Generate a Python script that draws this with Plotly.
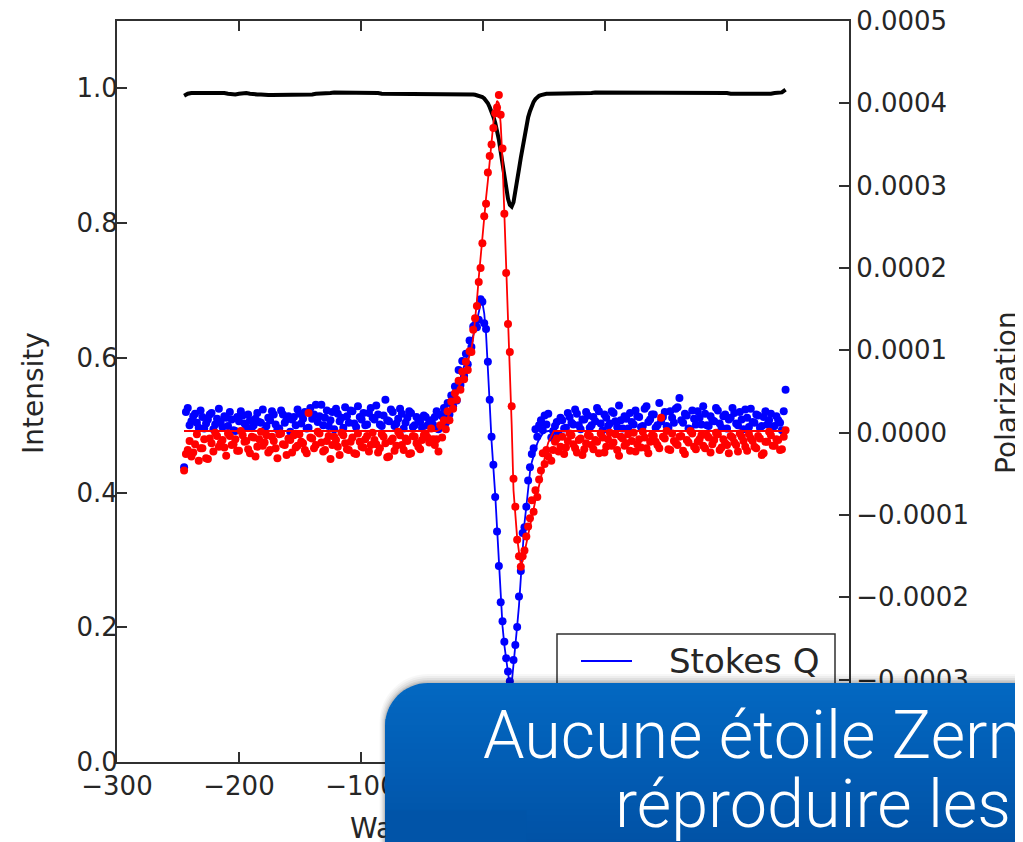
import math
import plotly.graph_objects as go

# ---------------- data ----------------
X_LEFT = [-245, -242, -239, -236, -233, -230, -227, -224, -221, -218,
          -215, -212, -209, -206, -203, -200, -197, -194, -191, -188,
          -185, -182, -179, -176, -173, -170, -167, -164, -161, -158,
          -155, -152, -149, -146, -143, -140, -137, -134, -131, -128,
          -125, -122, -119, -116, -113, -110, -107, -104, -101, -98,
          -95, -92, -89, -86, -83, -80, -77, -74, -71, -68,
          -65, -62, -59, -56, -53, -50, -47, -44, -41]
X_CENTER = [-39.5, -38, -36.5, -35, -33.5, -32, -30.5, -29, -27.5, -26,
            -24.5, -23, -21.5, -20, -18.5, -17, -15.5, -14, -12.5, -11,
            -9.5, -8, -6.5, -5, -3.5, -2, -0.5, 1, 2.5, 4,
            5.5, 7, 8.5, 10, 11.5, 13, 14.5, 16, 17.5, 19,
            20.5, 22, 23.5, 25, 26.5, 28, 29.5, 31, 32.5, 34,
            35.5, 37, 38.5, 40, 41.5, 43, 44.5, 46, 47.5, 49,
            50.5, 52, 53.5]
X_RIGHT = [56, 59, 62, 65, 68, 71, 74, 77, 80, 83,
           86, 89, 92, 95, 98, 101, 104, 107, 110, 113,
           116, 119, 122, 125, 128, 131, 134, 137, 140, 143,
           146, 149, 152, 155, 158, 161, 164, 167, 170, 173,
           176, 179, 182, 185, 188, 191, 194, 197, 200, 203,
           206, 209, 212, 215, 218, 221, 224, 227, 230, 233,
           236, 239, 242, 245, 248]
# interleaved continuum samples (polarization only)
X_LEFT_MID = [-243.5, -240.5, -237.5, -234.5, -231.5, -228.5, -225.5, -222.5, -219.5, -216.5,
              -213.5, -210.5, -207.5, -204.5, -201.5, -198.5, -195.5, -192.5, -189.5, -186.5,
              -183.5, -180.5, -177.5, -174.5, -171.5, -168.5, -165.5, -162.5, -159.5, -156.5,
              -153.5, -150.5, -147.5, -144.5, -141.5, -138.5, -135.5, -132.5, -129.5, -126.5,
              -123.5, -120.5, -117.5, -114.5, -111.5, -108.5, -105.5, -102.5, -99.5, -96.5,
              -93.5, -90.5, -87.5, -84.5, -81.5, -78.5, -75.5, -72.5, -69.5, -66.5,
              -63.5, -60.5, -57.5, -54.5, -51.5, -48.5, -45.5, -42.5]
X_RIGHT_MID = [57.5, 60.5, 63.5, 66.5, 69.5, 72.5, 75.5, 78.5, 81.5, 84.5,
               87.5, 90.5, 93.5, 96.5, 99.5, 102.5, 105.5, 108.5, 111.5, 114.5,
               117.5, 120.5, 123.5, 126.5, 129.5, 132.5, 135.5, 138.5, 141.5, 144.5,
               147.5, 150.5, 153.5, 156.5, 159.5, 162.5, 165.5, 168.5, 171.5, 174.5,
               177.5, 180.5, 183.5, 186.5, 189.5, 192.5, 195.5, 198.5, 201.5, 204.5,
               207.5, 210.5, 213.5, 216.5, 219.5, 222.5, 225.5, 228.5, 231.5, 234.5,
               237.5, 240.5, 243.5, 246.5]

INTENSITY_LEFT = [0.989, 0.992, 0.993, 0.993, 0.994, 0.994, 0.994, 0.993, 0.993, 0.994,
                  0.994, 0.993, 0.992, 0.991, 0.991, 0.992, 0.993, 0.993, 0.992, 0.991,
                  0.991, 0.991, 0.990, 0.990, 0.990, 0.990, 0.990, 0.990, 0.990, 0.990,
                  0.990, 0.991, 0.991, 0.991, 0.991, 0.991, 0.992, 0.992, 0.993, 0.993,
                  0.993, 0.994, 0.994, 0.993, 0.993, 0.993, 0.993, 0.993, 0.993, 0.993,
                  0.993, 0.993, 0.993, 0.993, 0.992, 0.992, 0.992, 0.992, 0.992, 0.992,
                  0.992, 0.992, 0.992, 0.992, 0.992, 0.992, 0.992, 0.992, 0.992]
INTENSITY_CENTER = [0.992, 0.992, 0.992, 0.992, 0.992, 0.992, 0.992, 0.992, 0.992, 0.992,
                    0.992, 0.992, 0.992, 0.992, 0.992, 0.992, 0.992, 0.992, 0.992, 0.9918,
                    0.9915, 0.991, 0.9905, 0.990, 0.9895, 0.989, 0.987, 0.985, 0.982, 0.978,
                    0.972, 0.966, 0.958, 0.949, 0.938, 0.924, 0.906, 0.887, 0.867, 0.851,
                    0.836, 0.827, 0.8245, 0.831, 0.845, 0.862, 0.880, 0.897, 0.914, 0.930,
                    0.944, 0.957, 0.966, 0.974, 0.980, 0.984, 0.987, 0.989, 0.990, 0.991,
                    0.9915, 0.992, 0.992]
INTENSITY_RIGHT = [0.992, 0.992, 0.992, 0.993, 0.993, 0.993, 0.993, 0.993, 0.993, 0.993,
                   0.993, 0.993, 0.994, 0.994, 0.994, 0.993, 0.993, 0.993, 0.993, 0.993,
                   0.993, 0.993, 0.993, 0.994, 0.994, 0.994, 0.994, 0.994, 0.993, 0.993,
                   0.993, 0.993, 0.993, 0.993, 0.993, 0.993, 0.994, 0.994, 0.994, 0.994,
                   0.994, 0.993, 0.993, 0.993, 0.993, 0.993, 0.993, 0.993, 0.993, 0.992,
                   0.992, 0.991, 0.991, 0.991, 0.991, 0.991, 0.992, 0.992, 0.992, 0.992,
                   0.992, 0.993, 0.993, 0.994, 0.998]

# Stokes values in units of 1e-5
Q_LEFT = [-4.2, 3.0, 1.4, 2.3, 0.6, 1.9, 1.1, 2.2, 0.4, 1.7,
          1.3, 2.0, 0.8, 1.6, 0.2, 1.4, 2.1, 0.7, 1.5, 0.9,
          2.4, 1.2, 0.3, 1.8, 2.6, 1.0, 0.5, 2.2, 1.6, 0.1,
          1.9, 2.8, 1.1, 2.5, 0.6, 1.7, 3.4, 2.0, 0.9, 2.7,
          1.5, 0.4, 2.3, 1.8, 3.1, 1.2, 2.6, 0.7, 1.9, 2.4,
          1.0, 3.0, 1.6, 2.2, 0.8, 4.0, 1.4, 2.5, 1.1, 2.9,
          0.5, 1.8, 2.4, 0.9, 1.6, 0.6, 1.9, 1.2, 1.0]
Q_LEFT_MID = [2.5, 0.9, 2.0, 1.2, 2.7, 0.5, 1.6, 2.4, 1.0, 2.9,
              0.7, 1.8, 2.5, 0.3, 1.9, 2.6, 1.1, 2.2, 0.6, 1.7,
              1.3, 2.8, 0.8, 1.5, 2.2, 0.4, 2.7, 1.2, 2.0, 1.6,
              0.9, 2.3, 1.7, 0.5, 3.0, 2.2, 1.3, 3.4, 1.8, 0.8,
              2.5, 2.9, 1.4, 0.6, 2.0, 2.7, 1.1, 3.2, 1.6, 0.9,
              2.4, 1.8, 3.3, 1.0, 2.1, 1.5, 2.8, 0.8, 1.7, 2.3,
              1.2, 2.6, 0.7, 1.9, 1.3, 2.1, 0.9, 1.5]
Q_CENTER = [1.9, 2.6, 0.4, 2.2, 2.0, 3.0, 1.2, 3.6, 2.2, 4.5,
            3.2, 5.6, 3.9, 7.6, 5.8, 8.7, 6.9, 9.6, 8.3, 11.2,
            10.4, 12.9, 13.1, 12.8, 13.7, 16.2, 15.9, 13.3, 12.6, 8.6,
            4.0, -0.5, -3.9, -7.8, -12.0, -16.2, -20.6, -22.9, -25.4, -27.4,
            -29.0, -30.2, -31.2, -27.6, -25.8, -23.6, -19.9, -16.8, -12.2, -11.5,
            -9.0, -5.8, -4.2, -2.6, -1.9, 0.4, -0.5, 0.9, 1.5, 0.3,
            2.1, 1.0, 2.3]
Q_RIGHT = [-0.6, 0.8, -0.2, 1.5, 0.6, 1.9, 1.0, 2.3, 0.4, 1.6,
           2.1, 0.9, 1.4, 2.6, 0.3, 1.8, 1.1, 2.4, 0.7, 1.5,
           2.0, 0.5, 1.3, 2.7, 1.9, 0.8, 3.2, 1.6, 2.2, 0.9,
           1.4, 2.5, 0.6, 1.8, 2.9, 4.2, 1.2, 2.1, 0.4, 1.7,
           2.6, 1.0, 2.3, 0.8, 1.5, 3.0, 1.1, 2.0, 0.5, 1.8,
           2.4, 0.9, 1.6, 2.8, 0.7, 1.3, 2.2, 0.6, 1.9, 1.0,
           2.3, 0.8, 1.5, 0.3, 5.2]
Q_RIGHT_MID = [0.2, 1.3, 1.8, 0.5, 2.4, 1.2, 2.8, 0.9, 1.6, 2.5,
               0.6, 1.9, 3.0, 1.1, 2.2, 0.8, 2.6, 1.4, 3.3, 0.5,
               1.7, 2.4, 1.0, 2.0, 0.7, 2.9, 1.3, 2.2, 0.6, 3.6,
               1.9, 0.8, 2.6, 1.2, 3.1, 1.5, 2.3, 0.5, 2.7, 1.0,
               1.8, 3.2, 0.9, 2.0, 1.4, 2.7, 0.6, 2.2, 1.6, 3.0,
               1.1, 2.5, 0.4, 1.8, 2.9, 1.2, 2.1, 0.8, 2.6, 1.5,
               0.7, 2.0, 1.2, 2.6]

U_LEFT = [-4.6, -2.1, -2.9, -1.4, -3.4, -1.9, -3.1, -0.7, -2.3, -0.4,
          -1.3, -1.8, -0.1, -1.5, -0.8, -2.2, -0.3, -1.0, -2.5, -0.6,
          -1.7, 0.1, -1.2, -2.4, -0.5, -1.9, -0.2, -1.4, -2.7, -0.9,
          -0.3, -1.6, -1.1, -2.1, 2.4, -0.7, -1.5, -0.1, -2.3, -1.0,
          -3.2, -0.5, -1.7, 0.0, -1.3, -2.1, -0.6, -2.6, -1.1, -1.8,
          -0.4, -1.5, -0.9, -2.4, -0.2, -1.3, -2.9, -0.7, -1.6, -0.3,
          -2.1, -1.0, -2.5, -0.5, -1.7, -0.9, -0.1, -1.2, -0.8]
U_LEFT_MID = [-2.6, -1.0, -2.4, -0.2, -1.9, -0.8, -3.2, -1.3, 0.0, -1.7,
              -0.9, -2.8, -0.4, -1.4, -2.2, 0.2, -1.1, -2.0, -0.5, -2.9,
              -0.8, -1.6, -0.3, -2.1, -1.0, -3.1, -0.1, -1.5, -0.7, -2.4,
              -1.8, -0.2, -1.3, -2.5, -0.6, -1.9, 0.1, -1.2, -2.1, -0.4,
              -1.5, -0.9, -2.7, -0.3, -2.0, -1.1, -2.5, -0.1, -1.7, -0.8,
              -2.3, 0.0, -1.4, -1.9, -0.5, -3.0, -1.0, -2.2, 0.1, -1.5,
              -0.7, -2.6, -0.4, -1.3, -2.0, -0.3, -0.6, 0.5]
U_CENTER = [-1.5, -0.8, -2.3, 0.9, -0.6, 1.5, 0.4, 2.6, 1.5, 3.8,
            2.9, 4.8, 4.0, 6.3, 5.2, 7.4, 6.5, 8.6, 7.6, 9.9,
            9.8, 12.5, 13.9, 15.4, 18.3, 20.0, 23.0, 26.3, 27.8, 31.6,
            33.6, 35.0, 37.0, 38.8, 39.5, 41.0, 38.6, 34.5, 26.6, 19.4,
            13.2, 9.8, 3.2, -5.6, -9.0, -13.0, -15.0, -16.3, -15.0, -14.3,
            -12.6, -11.4, -10.4, -8.2, -9.6, -7.0, -7.8, -5.7, -4.6, -2.5,
            -3.8, -2.1, -2.9]
U_RIGHT = [-3.4, -1.1, -2.3, -0.5, -1.8, -0.1, -1.4, -2.4, -0.7, -2.0,
           -0.3, -1.5, -0.9, -2.5, -0.6, -1.7, 0.0, -1.2, -2.1, -0.5,
           -1.6, -0.2, -1.0, -2.3, -0.8, 0.1, -1.9, -1.1, -0.4, -1.5,
           1.8, -0.7, -2.0, -0.1, -1.3, -0.5, -2.2, -0.9, 0.2, -1.7,
           -1.1, -0.3, -1.9, -0.6, -1.4, 0.0, -2.1, -0.8, -1.5, -0.4,
           -1.2, -2.3, -0.5, -1.7, -0.2, -1.0, -1.9, -0.7, -2.5, -1.1,
           -0.3, -1.6, -0.9, -2.0, 0.3]
U_RIGHT_MID = [-2.1, -0.7, -1.7, -2.6, -1.0, -0.3, -1.9, -0.9, -2.7, -1.3,
               -0.4, -2.0, -1.1, -0.1, -2.4, -0.8, -1.6, -0.2, -2.8, -0.7,
               -1.3, -2.2, 0.0, -1.4, -1.8, -0.6, -2.5, -0.3, -1.1, -1.9,
               -0.5, 0.2, -2.1, -1.0, -1.5, -0.4, -2.6, -1.2, -0.1, -2.0,
               -0.8, -1.6, -0.3, -2.4, -0.9, -0.2, -1.8, -1.3, -2.5, -0.6,
               -1.5, -0.1, -1.0, -2.2, -0.7, -1.7, -0.4, -2.7, -1.1, 0.1,
               -1.6, -0.8, -2.1, -0.5]

# fitted profiles (units of 1e-5)
FIT_X_EDGE_LEFT = [-245, -42]
FIT_X_EDGE_RIGHT = [58, 248]
Q_FIT_CENTER = [0.3, 0.5, 0.7, 0.9, 1.2, 1.5, 1.9, 2.3, 2.8, 3.3,
                3.9, 4.5, 5.2, 5.9, 6.6, 7.3, 8.0, 8.7, 9.5, 10.3,
                11.0, 11.8, 12.6, 13.5, 14.6, 15.6, 15.8, 14.5, 12.0, 8.3,
                3.5, -1.0, -4.0, -7.5, -11.5, -15.5, -20.0, -23.5, -25.8, -27.6,
                -29.3, -30.8, -30.5, -27.8, -25.6, -23.5, -21.0, -17.5, -13.5, -11.0,
                -9.0, -6.5, -4.8, -3.6, -2.8, -2.0, -1.3, -0.8, -0.4, -0.1,
                0.1, 0.2, 0.2]
U_FIT_CENTER = [0.2, 0.2, 0.3, 0.4, 0.6, 0.9, 1.3, 1.8, 2.4, 3.0,
                3.6, 4.2, 4.8, 5.4, 6.0, 6.6, 7.2, 7.9, 8.6, 9.4,
                10.2, 11.5, 13.5, 16.0, 18.8, 21.5, 24.0, 26.3, 28.5, 30.6,
                33.0, 35.5, 37.6, 39.2, 40.3, 40.0, 37.5, 33.0, 27.0, 19.5,
                14.0, 8.0, 1.0, -7.0, -10.5, -12.8, -14.5, -16.0, -15.6, -14.5,
                -13.3, -12.2, -11.2, -10.2, -9.2, -8.2, -7.3, -6.5, -5.5, -4.2,
                -3.0, -2.0, -1.2]
FIT_EDGE_LEFT = [0.2, 0.2]
FIT_EDGE_RIGHT = [0.2, 0.2]

UNIT = 1e-5

wavelength = X_LEFT + X_CENTER + X_RIGHT
intensity = INTENSITY_LEFT + INTENSITY_CENTER + INTENSITY_RIGHT
dot_x = X_LEFT + X_LEFT_MID + X_CENTER + X_RIGHT + X_RIGHT_MID
stokes_q = [v * UNIT for v in Q_LEFT + Q_LEFT_MID + Q_CENTER + Q_RIGHT + Q_RIGHT_MID]
stokes_u = [v * UNIT for v in U_LEFT + U_LEFT_MID + U_CENTER + U_RIGHT + U_RIGHT_MID]
fit_x = FIT_X_EDGE_LEFT + X_CENTER + FIT_X_EDGE_RIGHT
q_fit = [v * UNIT for v in FIT_EDGE_LEFT + Q_FIT_CENTER + FIT_EDGE_RIGHT]
u_fit = [v * UNIT for v in FIT_EDGE_LEFT + U_FIT_CENTER + FIT_EDGE_RIGHT]

# ---------------- layout geometry ----------------
# page body has an 8px margin: figure is drawn 8px in from the top-left
OFF = 8
W, H = 1023 - OFF, 842 - OFF
PL, PR, PT, PB = 117, 849, 21, 762   # plot area in screenshot pixels


def px(x):
    return (x - PL) / (PR - PL)


def py(y):
    return (PB - y) / (PB - PT)


BLUE = "#0000ff"
RED = "#ff0000"
AX = "#303030"
TXT = "#262626"
FONT = "DejaVu Sans"

fig = go.Figure()
fig.add_trace(go.Scatter(x=wavelength, y=intensity, mode="lines",
                         line=dict(color="black", width=4), yaxis="y", hoverinfo="skip"))
fig.add_trace(go.Scatter(x=fit_x, y=q_fit, mode="lines", name="Stokes Q",
                         line=dict(color=BLUE, width=1.8), yaxis="y2"))
fig.add_trace(go.Scatter(x=dot_x, y=stokes_q, mode="markers",
                         marker=dict(color=BLUE, size=8), yaxis="y2"))
fig.add_trace(go.Scatter(x=fit_x, y=u_fit, mode="lines", name="Stokes U",
                         line=dict(color=RED, width=1.8), yaxis="y2"))
fig.add_trace(go.Scatter(x=dot_x, y=stokes_u, mode="markers",
                         marker=dict(color=RED, size=8), yaxis="y2"))

axis_common = dict(showgrid=False, zeroline=False, showline=True, linecolor=AX, linewidth=2,
                   ticks="inside", ticklen=10, tickwidth=1.5, tickcolor=AX,
                   ticklabeloverflow="allow",
                   tickfont=dict(family=FONT, size=26, color=TXT))

fig.update_layout(
    width=W, height=H,
    margin=dict(l=PL - OFF, r=W - (PR - OFF), t=PT - OFF, b=H - (PB - OFF), autoexpand=False),
    paper_bgcolor="white", plot_bgcolor="white",
    showlegend=False,
    font=dict(family=FONT, color=TXT),
    xaxis=dict(range=[-300, 300], tick0=0, dtick=100, mirror="ticks",
               ticklabelstandoff=0, **axis_common),
    yaxis=dict(range=[0, 1.1], tick0=0, dtick=0.2, tickformat=".1f",
               ticklabelstandoff=-8, **axis_common),
    yaxis2=dict(range=[-0.00040001, 0.00050001], tick0=0, dtick=0.0001, tickformat=".4f",
                overlaying="y", side="right", ticklabelstandoff=0, **axis_common),
)

shapes = []
# manual legend box (partly hidden behind the slide overlay)
shapes.append(dict(type="rect", xref="paper", yref="paper", layer="above",
                   x0=px(557), x1=px(835), y0=py(740), y1=py(634),
                   fillcolor="white", line=dict(color=AX, width=1.5)))
shapes.append(dict(type="line", xref="paper", yref="paper", layer="above",
                   x0=px(581), x1=px(632), y0=py(661), y1=py(661),
                   line=dict(color=BLUE, width=2)))

# slide overlay: rounded box with drop shadow and vertical gradient
OX, OY, OR = 385, 683, 43
XR, YB = 1060, 880
K = 0.5523


def overlay_path(x0, y0, r):
    return (f"M {px(x0)},{py(YB)} L {px(x0)},{py(y0 + r)} "
            f"C {px(x0)},{py(y0 + r - K * r)} {px(x0 + r - K * r)},{py(y0)} {px(x0 + r)},{py(y0)} "
            f"L {px(XR)},{py(y0)} L {px(XR)},{py(YB)} Z")


for d, a in [(9, 0.03), (7, 0.04), (5, 0.05), (3, 0.07), (1.5, 0.09)]:
    shapes.append(dict(type="path", xref="paper", yref="paper", layer="above",
                       path=overlay_path(OX - d * 0.6, OY - d, OR + d * 0.6),
                       fillcolor=f"rgba(0,0,0,{a})", line=dict(width=0)))

TOP_C = (3, 104, 194)
BOT_C = (1, 82, 166)
YEND = 842


def grad(y):
    t = min(max((y - OY) / (YEND - OY), 0), 1)
    return "rgb({},{},{})".format(*[round(TOP_C[i] + (BOT_C[i] - TOP_C[i]) * t) for i in range(3)])


shapes.append(dict(type="path", xref="paper", yref="paper", layer="above",
                   path=overlay_path(OX, OY, OR), fillcolor=grad(OY), line=dict(width=0)))
band = 6
y = OY + band
while y < YEND + 10:
    if y < OY + OR:
        xl = OX + OR - math.sqrt(max(OR ** 2 - (OY + OR - y) ** 2, 0))
    else:
        xl = OX
    shapes.append(dict(type="rect", xref="paper", yref="paper", layer="above",
                       x0=px(xl), x1=px(XR), y0=py(y + band + 1), y1=py(y),
                       fillcolor=grad(y + band / 2), line=dict(width=0)))
    y += band

fig.update_layout(shapes=shapes)

annotations = [
    # axis titles
    dict(text="Intensity", xref="paper", yref="paper", x=px(33), y=py(393),
         xanchor="center", yanchor="middle", textangle=-90, showarrow=False,
         font=dict(family=FONT, size=28, color=TXT)),
    dict(text="Polarization", xref="paper", yref="paper", x=px(1006), y=py(393),
         xanchor="center", yanchor="middle", textangle=-90, showarrow=False,
         font=dict(family=FONT, size=28, color=TXT)),
    # x-axis title (mostly hidden behind the overlay)
    dict(text="Wavelength", xref="paper", yref="paper", x=px(348), y=py(828),
         xanchor="left", yanchor="middle", showarrow=False,
         font=dict(family=FONT, size=28, color=TXT)),
    # piece of the overlay that hides the axis title
    dict(text=" ", xref="paper", yref="paper", x=px(OX), y=py(YEND + 2),
         xanchor="left", yanchor="bottom", showarrow=False, width=140, height=32,
         bgcolor=grad(830), borderpad=0),
    # legend label
    dict(text="Stokes Q", xref="paper", yref="paper", x=px(667), y=py(661),
         xanchor="left", yanchor="middle", showarrow=False,
         font=dict(family=FONT, size=34, color=TXT)),
    # slide caption
    dict(text="Aucune étoile Zern", xref="paper", yref="paper", x=px(481), y=py(735),
         xanchor="left", yanchor="middle", showarrow=False,
         font=dict(family="Roboto", size=66.5, color="white", weight=300)),
    dict(text="réproduire les", xref="paper", yref="paper", x=px(613), y=py(804),
         xanchor="left", yanchor="middle", showarrow=False,
         font=dict(family="Roboto", size=66.5, color="white", weight=300)),
]
fig.update_layout(annotations=annotations)

fig.write_html("out.html")
